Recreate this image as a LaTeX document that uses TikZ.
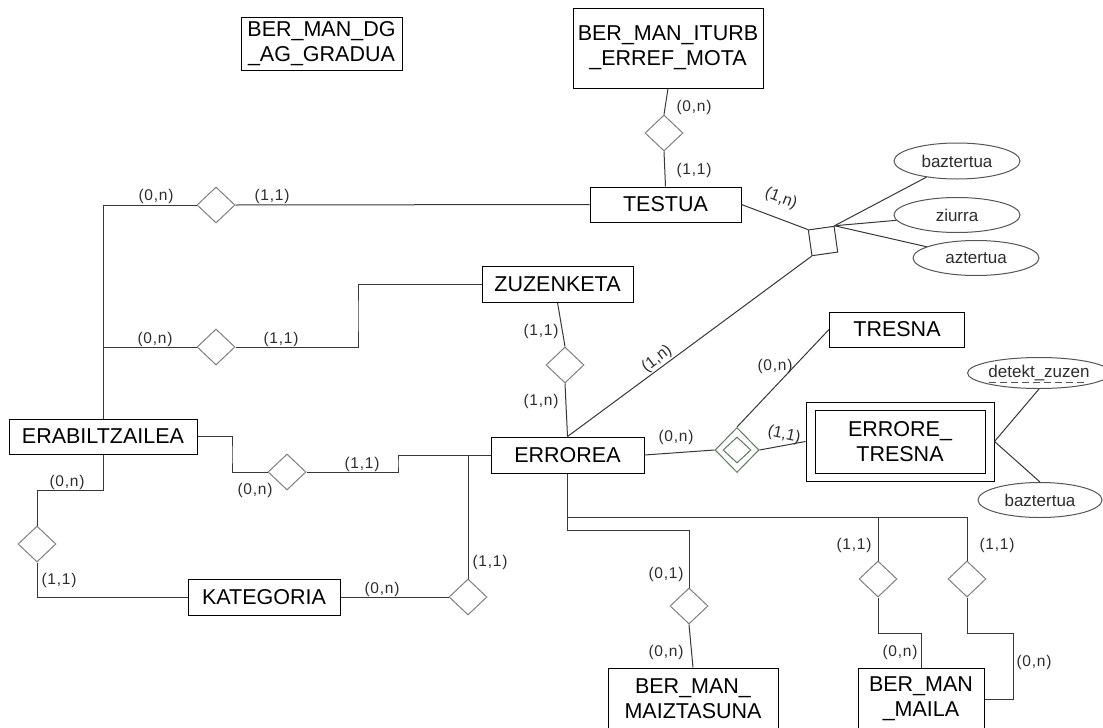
\documentclass[tikz,border=0pt]{standalone}
\usepackage{fontspec}
\setmainfont{Liberation Sans}
\newfontfamily\cardf[LetterSpace=5]{Liberation Sans}
\newfontfamily\cardr{Liberation Sans}
\usetikzlibrary{shapes.geometric,calc}
\definecolor{linegray}{RGB}{55,55,55}
\definecolor{relgray}{RGB}{128,128,128}
\definecolor{ddgreen}{RGB}{95,120,95}
\definecolor{attrgray}{RGB}{85,85,85}
\definecolor{txtgray}{RGB}{45,45,45}
\begin{document}
\begin{tikzpicture}[x=1pt,y=-1pt,
  ent/.style={draw=black, line width=1pt, inner sep=0pt, align=center, font=\fontsize{21.5}{25}\selectfont},
  rel/.style={draw=relgray, shape=diamond, minimum width=38pt, minimum height=36pt, inner sep=0pt, line width=1pt},
  ddiam/.style={draw=ddgreen, shape=diamond, inner sep=0pt, line width=1pt},
  attr/.style={draw=attrgray, ellipse, inner sep=0pt, line width=1pt, font=\fontsize{17}{19}\selectfont, text=txtgray},
  card/.style={font=\cardf\fontsize{15.5}{18}\selectfont, text=txtgray, inner sep=0pt},
  rcard/.style={font=\cardr\fontsize{16}{18}\selectfont, text=txtgray, inner sep=0pt},
  conn/.style={draw=linegray, line width=1pt},
]
\useasboundingbox (0,0) rectangle (1103,728);
\fill[white] (0,0) rectangle (1103,728);

% entities
\node[ent, minimum width=161pt, minimum height=53pt] (dg) at (321.5,43.5) {BER\_MAN\_DG\\\_AG\_GRADUA};
\node[ent, minimum width=190pt, minimum height=80pt] (iturb) at (668,48) {BER\_MAN\_ITURB\\\_ERREF\_MOTA};
\node[ent, minimum width=151pt, minimum height=35pt] (testua) at (665.5,204.5) {TESTUA};
\node[ent, minimum width=151pt, minimum height=36pt] (zuzenketa) at (557.5,284) {ZUZENKETA};
\node[ent, minimum width=135pt, minimum height=35pt] (tresna) at (897,329.5) {TRESNA};
\node[ent, minimum width=153pt, minimum height=36pt] (errorea) at (567.5,455) {ERROREA};
\node[ent, minimum width=170pt, minimum height=63pt] (et) at (900,441.5) {ERRORE\_\\TRESNA};
\node[draw=black, line width=1pt, inner sep=0pt, minimum width=188pt, minimum height=79pt] (eto) at (900,441.5) {};
\node[ent, minimum width=188pt, minimum height=35pt] (erabiltzailea) at (103,436.5) {ERABILTZAILEA};
\node[ent, minimum width=152pt, minimum height=36pt] (kategoria) at (264,597) {KATEGORIA};
\node[ent, minimum width=170pt, minimum height=62pt] (maiz) at (693,699) {BER\_MAN\_\\MAIZTASUNA};
\node[ent, minimum width=126pt, minimum height=62pt] (maila) at (921,699) {BER\_MAN\\\_MAILA};

% relationships
\node[rel] (d_iturb) at (664,133) {};
\node[rel] (d_testua) at (216,205) {};
\node[rel] (d_zu) at (216,347) {};
\node[rel] (d_zuz) at (565,365) {};
\node[rel] (d_ue) at (287,472) {};
\node[rel] (d_uk) at (37,544) {};
\node[rel] (d_kat) at (468,597) {};
\node[rel] (d_maiz) at (689,606) {};
\node[rel] (d_m1) at (878,579) {};
\node[rel] (d_m2) at (967,579) {};
\node[ddiam, minimum width=44pt, minimum height=45pt] (dd) at (737,450) {};
\node[ddiam, minimum width=28pt, minimum height=26pt] (ddin) at (737,450) {};
\node[draw=linegray, line width=1pt, minimum size=26pt, inner sep=0pt, rotate=8] (sq) at (823,241) {};

% attributes
\node[attr, minimum width=126pt, minimum height=36pt] (baz1) at (957,161) {baztertua};
\node[attr, minimum width=126pt, minimum height=35pt] (ziurra) at (957,215) {ziurra};
\node[attr, minimum width=126pt, minimum height=35pt] (aztertua) at (976,258) {aztertua};
\node[attr, minimum width=127pt, minimum height=31pt] (detekt) at (1039,373) {detekt\_zuzen};
\node[attr, minimum width=124pt, minimum height=35pt] (baz2) at (1040,500) {baztertua};
\draw[attrgray, line width=0.9pt, dash pattern=on 7pt off 4pt] ($(detekt.center)+(-50,9.5)$) -- ($(detekt.center)+(48,9.5)$);

% bend coordinates
\coordinate (bend1) at (358,316);
\coordinate (b1) at (0,530);
\coordinate (b2) at (0,517);
\coordinate (b3) at (0,633);
\coordinate (b4) at (1013,633);
\coordinate (b5) at (232,455);
\coordinate (b6) at (398,463);
\coordinate (b7) at (0,490);

% connectors
\draw[conn] (iturb.south) -- (d_iturb.north);
\draw[conn] (d_iturb.south) -- (testua.north);
\draw[conn] (erabiltzailea.north) |- (d_testua.west);
\draw[conn] (d_testua.east) -- (testua.west);
\draw[conn] (erabiltzailea.north) |- (d_zu.west);
\draw[conn] (d_zu.east) -| (bend1) |- (zuzenketa.west);
\draw[conn] (zuzenketa.south) -- (d_zuz.north);
\draw[conn] (d_zuz.south) -- (errorea.north);
\draw[conn] (errorea.north) -- (sq.south west);
\draw[conn] (testua.east) -- (sq.north west);
\draw[conn] (sq.north east) -- (baz1);
\draw[conn] (sq.north east) -- (ziurra);
\draw[conn] (sq.north east) -- (aztertua);
\draw[conn] (errorea.east) -- (dd.west);
\draw[conn] (tresna.west) -- (dd.north);
\draw[conn] (dd.east) -- (eto.west);
\draw[conn] (eto.east) -- (detekt.south);
\draw[conn] (eto.east) -- (baz2.north);
\draw[conn] (errorea.south) |- (d_maiz.north |- b1) -- (d_maiz.north);
\draw[conn] (errorea.south) |- (d_m2.north |- b2) -- (d_m2.north);
\draw[conn] (d_m1.north |- b2) -- (d_m1.north);
\draw[conn] (d_maiz.south) -- (maiz.north);
\draw[conn] (d_m1.south) |- (maila.north |- b3) -- (maila.north);
\draw[conn] (d_m2.south) |- (b4) |- (maila.east);
\draw[conn] (erabiltzailea.east) -| (b5) |- (d_ue.west);
\draw[conn] (d_ue.east) -| (b6) |- (errorea.west);
\draw[conn] (d_kat.north |- errorea.west) -- (d_kat.north);
\draw[conn] (kategoria.east) -- (d_kat.west);
\draw[conn] (erabiltzailea.south) |- (d_uk.north |- b7) -- (d_uk.north);
\draw[conn] (d_uk.south) |- (kategoria.west);

% cardinalities
\node[card] (c1) at (694,107) {(0,n)};
\node[card] (c2) at (694,170) {(1,1)};
\node[card] (c3) at (156,196) {(0,n)};
\node[card] (c4) at (272,196) {(1,1)};
\node[card] (c5) at (155,339) {(0,n)};
\node[card] (c6) at (281,339) {(1,1)};
\node[card] (c7) at (362,464) {(1,1)};
\node[card] (c8) at (255,490) {(0,n)};
\node[card] (c9) at (67,482) {(0,n)};
\node[card] (c10) at (59,580) {(1,1)};
\node[card] (c11) at (382,589) {(0,n)};
\node[card] (c12) at (490,562) {(1,1)};
\node[card] (c13) at (541,331) {(1,1)};
\node[card] (c14) at (541,401) {(1,n)};
\node[card] (c15) at (676,437) {(0,n)};
\node[card] (c16) at (775,366) {(0,n)};
\node[rcard, rotate=-12] (c17) at (784,435) {(1,1)};
\node[rcard, rotate=37] (c18) at (657,359) {(1,n)};
\node[rcard, rotate=-21] (c19) at (781,199) {(1,n)};
\node[card] (c20) at (666,574) {(0,1)};
\node[card] (c21) at (666,652) {(0,n)};
\node[card] (c22) at (854,545) {(1,1)};
\node[card] (c23) at (997,545) {(1,1)};
\node[card] (c24) at (900,652) {(0,n)};
\node[card] (c25) at (1034,662) {(0,n)};
\end{tikzpicture}
\end{document}
